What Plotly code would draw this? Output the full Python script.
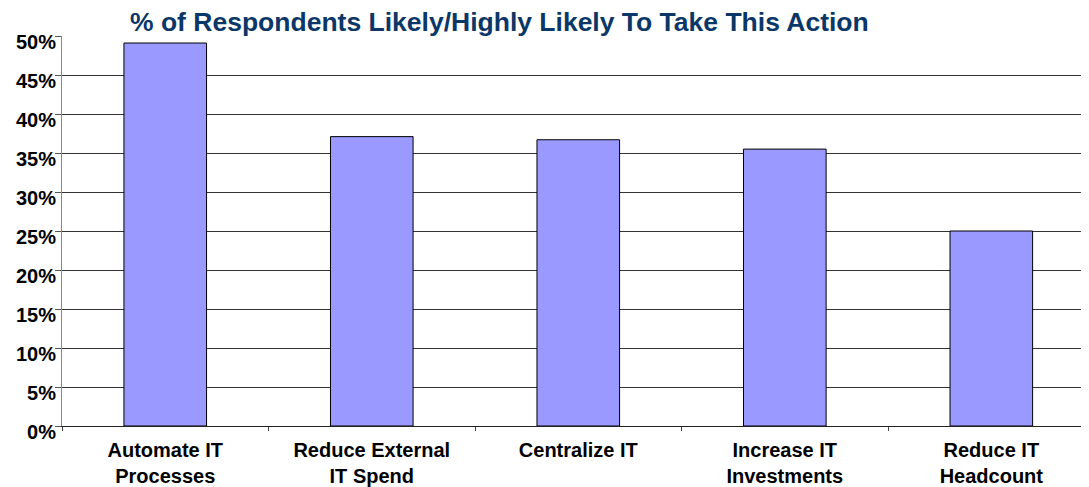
import plotly.graph_objects as go

categories = ["Automate IT<br>Processes", "Reduce External<br>IT Spend", "Centralize IT",
              "Increase IT<br>Investments", "Reduce IT<br>Headcount"]
values = [49.1, 37.1, 36.7, 35.5, 25.0]
y_ticks = [0, 5, 10, 15, 20, 25, 30, 35, 40, 45, 50]
y_tick_labels = [f"{v}%" for v in y_ticks]
title_text = "% of Respondents Likely/Highly Likely To Take This Action"

# the page body has an 8px margin, so the figure is drawn 8px in from the top-left
OFF = 8
W, H = 1089 - OFF, 487 - OFF
L, T, B = 62 - OFF, 36 - OFF, 61
plot_w = W - L

fig = go.Figure(go.Bar(
    x=categories, y=values,
    marker=dict(color="#9999FF", line=dict(color="#000000", width=1)),
    width=0.40,
))

FONT = "Liberation Sans, Arial, sans-serif"

fig.update_layout(
    width=W, height=H,
    margin=dict(l=L, r=0, t=T, b=B),
    paper_bgcolor="white", plot_bgcolor="white",
    font=dict(family=FONT, color="black"),
    showlegend=False,
    annotations=[dict(
        text="<b>" + title_text + "</b>", xref="paper", yref="paper",
        x=(128 - 62) / plot_w, y=1, xanchor="left", yanchor="bottom", yshift=-3,
        showarrow=False, font=dict(size=26.5, color="#0B3768", family=FONT),
    )],
)

fig.update_xaxes(
    range=[-0.5, 4.473], showgrid=False,
    showline=True, linecolor="#222222", linewidth=1,
    ticks="outside", tickson="boundaries", ticklen=4, tickcolor="#444444",
    tickfont=dict(size=20, family=FONT, color="black"),
    tickprefix="<b>", ticksuffix="</b>",
    ticklabelstandoff=6,
    fixedrange=True,
)
fig.update_yaxes(
    range=[0, 50], tickvals=y_ticks, ticktext=["<b>" + t + "</b>" for t in y_tick_labels],
    showgrid=True, gridcolor="#333333", gridwidth=1,
    showline=True, linecolor="#888888", linewidth=1,
    ticks="outside", ticklen=6, tickcolor="#555555",
    tickfont=dict(size=20, family=FONT, color="black"),
    ticklabelshift=6, ticklabelstandoff=-5, zeroline=False,
    fixedrange=True,
)

fig.write_html("out.html")
